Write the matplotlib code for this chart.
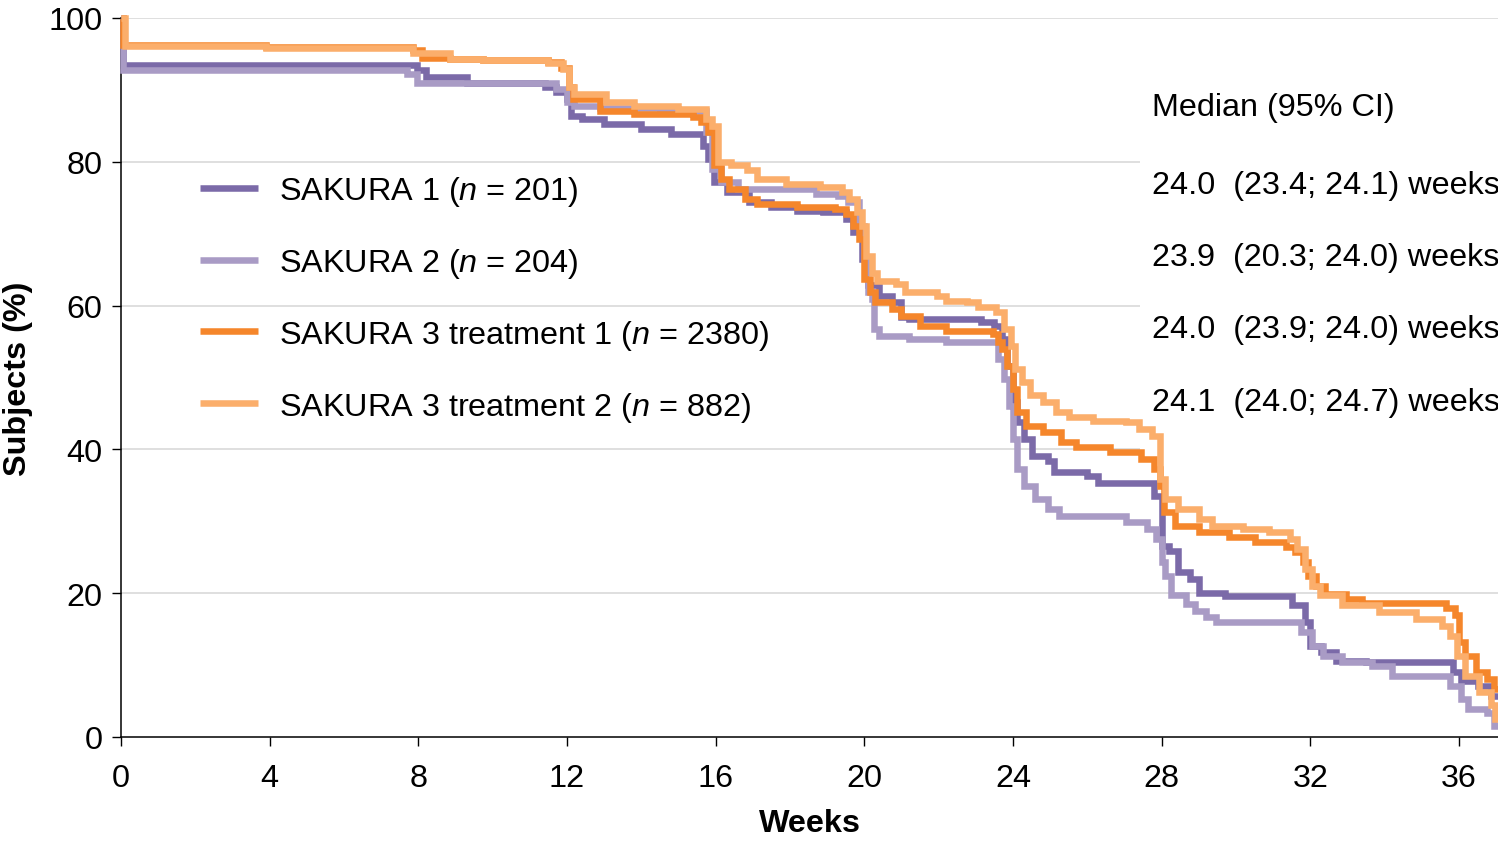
import matplotlib
matplotlib.use("Agg")
import matplotlib.pyplot as plt

plt.rcParams['font.family'] = ['Liberation Sans', 'DejaVu Sans']
plt.rcParams['mathtext.fontset'] = 'custom'
plt.rcParams['mathtext.it'] = 'Liberation Sans:italic'
plt.rcParams['mathtext.rm'] = 'Liberation Sans'

# Kaplan-Meier style step data (weeks, % subjects)
s1_t = [0, 0.05, 7.96, 8.2, 9.3, 11.4, 11.7, 12.0, 12.1, 12.4, 13.0, 14.0, 14.8, 15.65, 15.8,
        15.95, 16.3, 16.9, 17.5, 18.2, 18.9, 19.5, 19.7, 19.95, 20.1, 20.4, 20.75, 21.0, 21.2,
        23.15, 23.5, 23.7, 23.85, 24.0, 24.1, 24.3, 24.5, 24.95, 25.1, 26.0, 26.3, 27.8, 28.0,
        28.2, 28.45, 28.75, 29.0, 29.7, 31.5, 31.85, 32.0, 32.3, 32.7, 33.5, 35.85, 36.05, 36.5,
        36.85, 37.05]
s1_v = [100, 93.5, 92.7, 91.8, 91.0, 90.4, 89.7, 88.7, 86.4, 86.0, 85.3, 84.6, 83.9, 82.2, 80.4,
        77.2, 75.8, 74.4, 73.7, 73.2, 73.0, 72.0, 70.2, 66.5, 62.8, 61.4, 60.5, 58.4, 58.1,
        57.7, 57.2, 55.4, 51.6, 46.6, 43.8, 41.4, 39.1, 38.4, 36.9, 36.3, 35.3, 33.5, 26.6,
        25.9, 22.9, 22.0, 20.0, 19.6, 18.3, 16.0, 12.7, 11.8, 10.6, 10.4, 9.0, 7.8, 7.1,
        5.7, 5.7]

s2_t = [0, 0.05, 7.7, 7.96, 11.7, 12.0, 12.2, 12.9, 14.5, 15.75, 15.9, 16.15, 16.6, 18.7, 19.3,
        19.55, 19.85, 20.0, 20.1, 20.2, 20.25, 20.4, 21.2, 22.2, 23.6, 23.75, 23.9, 24.0, 24.1,
        24.3, 24.6, 24.95, 25.25, 27.05, 27.6, 27.85, 28.0, 28.1, 28.25, 28.65, 28.9, 29.2,
        29.45, 31.75, 32.05, 32.35, 32.85, 33.65, 34.2, 35.75, 36.05, 36.25, 36.75, 36.95, 37.05]
s2_v = [100, 92.7, 92.2, 91.0, 90.1, 88.3, 87.8, 87.5, 87.0, 84.1, 79.0, 77.2, 76.2, 75.5, 75.2,
        74.4, 71.1, 66.5, 61.9, 60.9, 56.7, 55.8, 55.4, 54.9, 52.6, 49.8, 46.1, 41.4, 37.3,
        34.9, 33.1, 31.7, 30.7, 29.9, 28.9, 27.5, 24.3, 22.4, 19.7, 18.5, 17.5, 16.7,
        16.0, 14.6, 12.7, 11.3, 10.4, 9.9, 8.5, 7.1, 5.3, 3.9, 3.4, 1.5, 1.5]

t1_t = [0, 0.05, 3.9, 7.86, 8.1, 8.85, 9.74, 11.5, 11.85, 12.05, 12.15, 12.9, 13.8, 15.4, 15.6,
        15.8, 15.95, 16.15, 16.35, 16.8, 17.1, 18.2, 19.2, 19.5, 19.7, 19.85, 20.0, 20.15, 20.3,
        20.75, 21.0, 21.5, 22.2, 23.45, 23.6, 23.7, 23.85, 24.0, 24.1, 24.35, 24.8, 25.3, 25.7,
        26.6, 27.45, 27.8, 27.95, 28.05, 28.35, 29.0, 29.8, 30.5, 31.35, 31.6, 31.8, 31.95,
        32.15, 32.4, 32.95, 33.4, 35.65, 35.9, 36.0, 36.15, 36.45, 36.75, 36.95, 37.05]
t1_v = [100, 96.3, 96.0, 95.5, 94.5, 94.3, 94.1, 93.9, 93.0, 90.4, 88.7, 87.1, 86.6, 86.2, 85.5,
        84.1, 79.5, 77.6, 76.2, 74.8, 74.1, 73.7, 73.4, 72.7, 71.1, 69.3, 63.7, 61.9, 60.5,
        59.5, 58.6, 57.2, 56.5, 56.0, 54.9, 54.0, 51.6, 48.4, 45.2, 43.3, 42.4, 41.0, 40.3,
        39.6, 38.7, 37.3, 34.9, 31.3, 29.3, 28.5, 27.8, 27.1, 26.4, 25.7, 24.3, 22.4,
        21.0, 19.9, 19.2, 18.7, 18.0, 16.9, 13.2, 11.3, 9.0, 8.1, 6.7, 6.7]

t2_t = [0, 0.1, 3.9, 7.86, 8.85, 9.74, 11.5, 11.9, 12.05, 12.2, 13.05, 13.8, 15.0, 15.75, 15.9,
        16.05, 16.4, 16.85, 17.1, 17.9, 18.8, 19.4, 19.6, 19.8, 19.95, 20.05, 20.2, 20.35, 20.85,
        21.1, 21.95, 22.2, 22.75, 23.05, 23.55, 23.75, 23.95, 24.05, 24.25, 24.45, 24.8, 25.15,
        25.5, 26.15, 27.05, 27.4, 27.75, 27.95, 28.1, 28.45, 29.0, 29.35, 30.2, 30.9, 31.45,
        31.65, 31.85, 32.05, 32.25, 32.85, 33.85, 34.85, 35.55, 35.75, 35.95, 36.15, 36.55,
        36.85, 36.97, 37.05]
t2_v = [100, 96.1, 95.8, 95.2, 94.3, 94.1, 93.8, 92.9, 90.4, 89.4, 88.3, 87.8, 87.3, 86.0, 85.0,
        80.0, 79.5, 78.8, 77.6, 76.9, 76.5, 75.8, 74.8, 73.0, 71.1, 66.9, 64.6, 63.4, 63.0,
        61.9, 61.4, 60.7, 60.5, 59.8, 59.1, 56.7, 54.4, 51.2, 49.4, 47.5, 46.6, 45.2,
        44.5, 44.0, 43.8, 42.8, 41.9, 35.9, 33.1, 31.7, 30.3, 29.3, 28.9, 28.5, 27.5,
        26.1, 23.4, 21.0, 19.7, 18.3, 17.4, 16.4, 15.5, 14.1, 11.3, 8.5, 6.3,
        4.4, 2.5, 2.5]

labels = ['SAKURA 1 ($n$ = 201)', 'SAKURA 2 ($n$ = 204)',
          'SAKURA 3 treatment 1 ($n$ = 2380)', 'SAKURA 3 treatment 2 ($n$ = 882)']
colors = ['#7b6aa8', '#a99bc5', '#f5862b', '#fbae6b']
medians = ['24.0  (23.4; 24.1) weeks', '23.9  (20.3; 24.0) weeks',
           '24.0  (23.9; 24.0) weeks', '24.1  (24.0; 24.7) weeks']
x_ticks = list(range(0, 37, 4))
y_ticks = [0, 20, 40, 60, 80, 100]

FS = 23.3

fig = plt.figure(figsize=(14.98, 8.45), dpi=100)
ax = fig.add_axes([121 / 1498, 1 - 738 / 845, 1 - 121 / 1498, (738 - 19) / 845])

# grid lines, the middle ones stop short of the median text
for lvl in y_ticks[1:]:
    end = 37.05 if lvl in (20, 100) else 27.42
    ax.hlines(lvl, 0, end, color='#d9d9d9', lw=1.2, zorder=0)

series = [(s2_t, s2_v, 1), (s1_t, s1_v, 0), (t1_t, t1_v, 2), (t2_t, t2_v, 3)]
handles = {}
for t, v, i in series:
    ln, = ax.step(t, v, where='post', color=colors[i], lw=4.7, label=labels[i],
                  solid_joinstyle='miter', solid_capstyle='butt', clip_on=False, zorder=2 + i)
    handles[i] = ln

ax.set_xlim(0, 37.05)
ax.set_ylim(0, 100)
ax.set_xticks(x_ticks)
ax.set_yticks(y_ticks)
ax.tick_params(labelsize=FS, length=6.5, width=1, color='black')
ax.tick_params(axis='x', pad=12)
ax.tick_params(axis='y', pad=7)
for side in ['top', 'right']:
    ax.spines[side].set_visible(False)
for side in ['left', 'bottom']:
    ax.spines[side].set_linewidth(1.1)

ax.set_xlabel('Weeks', fontsize=FS, fontweight='bold', labelpad=11)
ax.set_ylabel('Subjects (%)', fontsize=FS, fontweight='bold', labelpad=11)

leg = ax.legend([handles[i] for i in range(4)], labels, loc='upper left',
                bbox_to_anchor=(200 / 1498, 1 - 175 / 845), bbox_transform=fig.transFigure,
                frameon=False, fontsize=FS, borderpad=0, borderaxespad=0,
                handlelength=1.79, handletextpad=0.65, labelspacing=1.17)

ax.text(27.74, 87.6, 'Median (95% CI)', fontsize=FS, va='center', ha='left')
for k, m in enumerate(medians):
    ax.text(27.74, 76.8 - k * 10.05, m, fontsize=FS, va='center', ha='left')

fig.savefig('out.png', dpi=100)
